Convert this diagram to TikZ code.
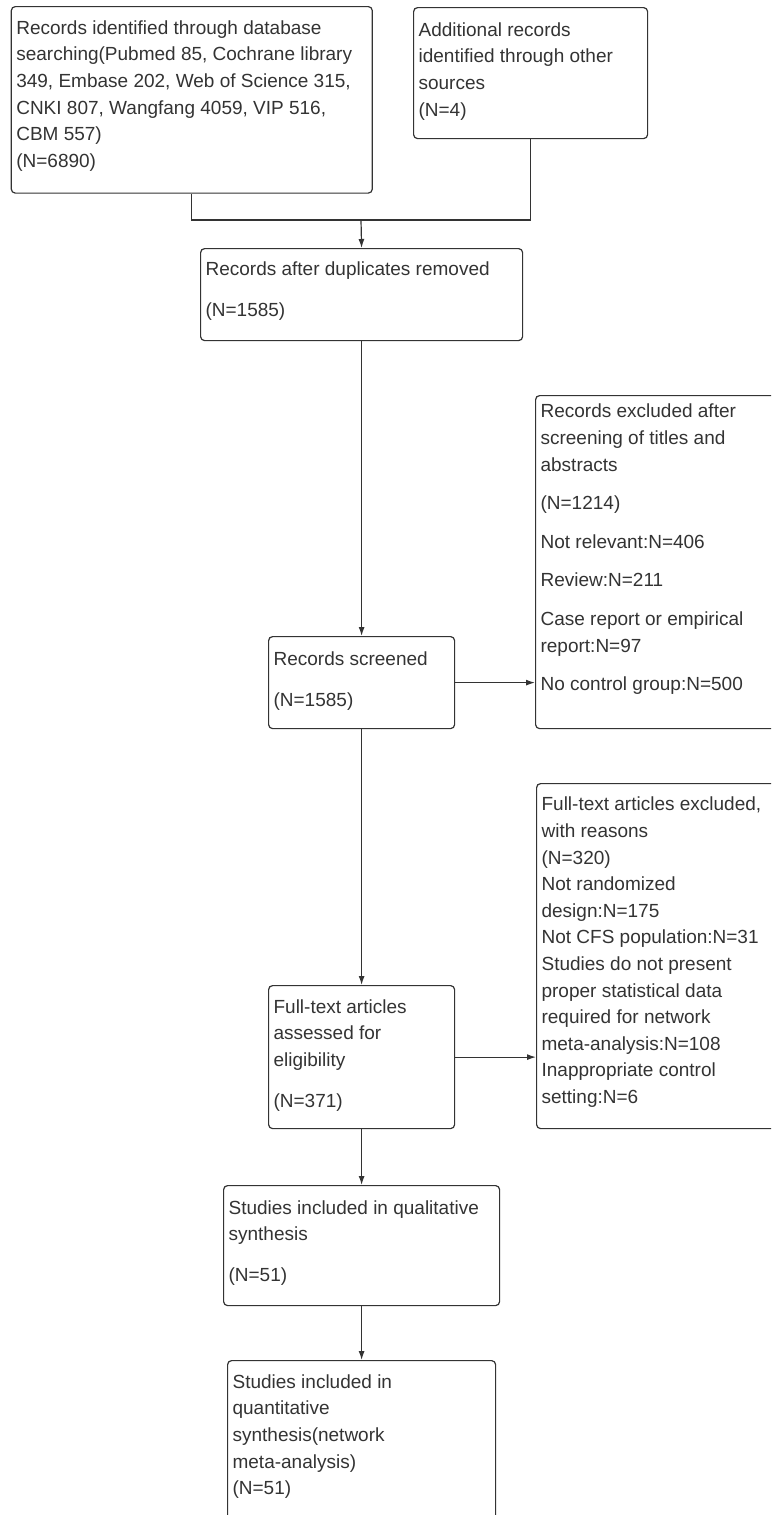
\documentclass[tikz,border=0pt]{standalone}
\usepackage{fontspec}
\setmainfont{Liberation Sans}
\usetikzlibrary{arrows.meta, positioning}
\definecolor{ink}{HTML}{333333}
% box text: width, height, space above first line, text
\newcommand{\boxtext}[4]{\parbox[c][#2][t]{#1}{\raggedright\vspace*{#3}#4}}
\tikzset{
  stage/.style={draw=ink, text=ink, line width=1.2pt, rounded corners=4pt,
    inner xsep=5pt, inner ysep=0pt, anchor=north west,
    font=\fontsize{19}{26.6}\selectfont},
  link/.style={draw=ink, line width=1.2pt},
  flow/.style={link, -{Latex[length=9pt,width=6pt]}},
}

\begin{document}
\begin{tikzpicture}[x=1pt, y=-1pt]
  \useasboundingbox (0,0) rectangle (771,1515);
  \clip (0,0) rectangle (771,1515);
  % identification
  \node[stage] (srch) at (10.7,6) {\boxtext{351pt}{186.5pt}{14pt}{Records identified through database\\
    searching(Pubmed 85, Cochrane library\\
    349, Embase 202, Web of Science 315,\\
    CNKI 807, Wangfang 4059, VIP 516,\\
    CBM 557)\\
    (N=6890)}};
  \node[stage] (other) at (413,7) {\boxtext{224pt}{131pt}{15pt}{Additional records\\
    identified through other\\
    sources\\
    (N=4)}};
  % screening
  \node[stage] (dup) at (200,248) {\boxtext{312pt}{92pt}{13.5pt}{Records after duplicates removed\\[14.4pt]
    (N=1585)}};
  \node[stage] (screened) at (268,636) {\boxtext{176pt}{92pt}{15pt}{Records screened\\[14.4pt]
    (N=1585)}};
  \node[stage] (excl1) at (535,395) {\boxtext{260pt}{333pt}{8.5pt}{Records excluded after\\
    screening of titles and\\
    abstracts\\[12pt]
    (N=1214)\\[12pt]
    Not relevant:N=406\\[12pt]
    Review:N=211\\[12pt]
    Case report or empirical\\
    report:N=97\\[12pt]
    No control group:N=500}};
  % eligibility
  \node[stage] (fulltext) at (268,985) {\boxtext{176pt}{143pt}{14pt}{Full-text articles\\
    assessed for\\
    eligibility\\[14.4pt]
    (N=371)}};
  \node[stage] (excl2) at (536,783) {\boxtext{260pt}{345pt}{13.5pt}{Full-text articles excluded,\\
    with reasons\\
    (N=320)\\
    Not randomized\\
    design:N=175\\
    Not CFS population:N=31\\
    Studies do not present\\
    proper statistical data\\
    required for network\\
    meta-analysis:N=108\\
    Inappropriate control\\
    setting:N=6}};
  % included
  \node[stage] (qual) at (223,1185) {\boxtext{266pt}{120pt}{15pt}{Studies included in qualitative\\
    synthesis\\[14.4pt]
    (N=51)}};
  \node[stage] (quant) at (227,1360) {\boxtext{258pt}{200pt}{14pt}{Studies included in\\
    quantitative\\
    synthesis(network\\
    meta-analysis)\\
    (N=51)}};
  % connectors
  \coordinate (merge) at (361,220);
  \draw[link] (srch.south) |- (merge) -| (other.south);
  \draw[flow] (merge) -- (dup.north);
  \draw[flow] (dup) -- (screened);
  \draw[flow] (screened.east) -- (screened.east -| excl1.west);
  \draw[flow] (screened) -- (fulltext);
  \draw[flow] (fulltext.east) -- (fulltext.east -| excl2.west);
  \draw[flow] (fulltext) -- (qual);
  \draw[flow] (qual) -- (quant);
\end{tikzpicture}
\end{document}
